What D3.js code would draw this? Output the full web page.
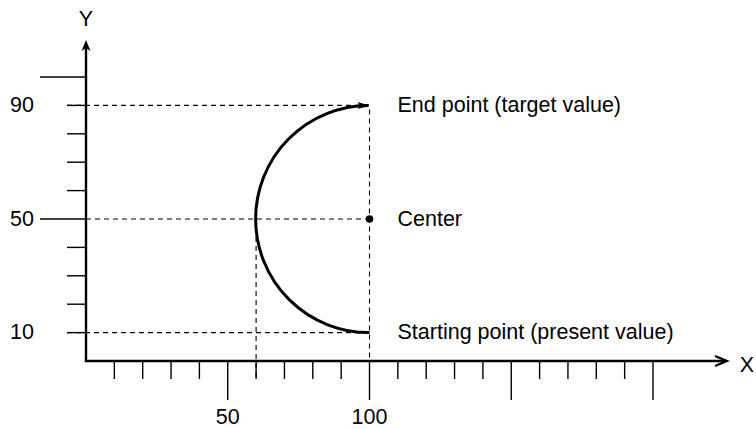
<!DOCTYPE html>
<html>
<head>
<meta charset="utf-8">
<script src="https://cdn.jsdelivr.net/npm/d3@7"></script>
<style>
  html, body { margin: 0; padding: 0; background: #fff; }
  svg { display: block; }
  text { font-family: "Liberation Sans", Arial, Helvetica, sans-serif; fill: #000; }
</style>
</head>
<body>
<svg id="chart" width="756" height="429"></svg>
<script>
// ---- data ----
const xMinorTicks = [10,20,30,40,60,70,80,90,110,120,130,140,160,170,180,190];
const xMajorTicks = [50,100,150,200];
const xTickLabels = [50,100];
const yMinorTicks = [10,20,30,40,60,70,80,90];
const yMajorTicks = [50,100];
const yTickLabels = [10,50,90];
const startPoint = {x:100, y:10};
const centerPoint = {x:100, y:50};
const endPoint = {x:100, y:90};
const leftPoint = {x:60, y:50};
const annotations = ["End point (target value)", "Center", "Starting point (present value)"];
const annotationY = [90, 50, 10];

// ---- layout ----
const svg = d3.select("#chart");
const x = d3.scaleLinear().domain([0,200]).range([86,653]);
const y = d3.scaleLinear().domain([0,100]).range([361,77]);
const xAxisEnd = 727, yAxisTop = 40;
const fs = 21.5;

const defs = svg.append("defs");
defs.append("marker").attr("id","arcArrow").attr("viewBox","0 0 12 8")
  .attr("refX",11).attr("refY",4).attr("markerWidth",12).attr("markerHeight",8)
  .attr("markerUnits","userSpaceOnUse").attr("orient","auto")
  .append("path").attr("d","M0,0.5 L12,4 L0,7.5 L2.5,4 Z").attr("fill","#000");

const dash = "5,4";
const g = svg.append("g");
function dline(x1,y1,x2,y2){
  g.append("line").attr("x1",x1).attr("y1",y1).attr("x2",x2).attr("y2",y2)
   .attr("stroke","#000").attr("stroke-width",1.1).attr("stroke-dasharray",dash);
}
dline(x(0)-19, y(endPoint.y), x(endPoint.x), y(endPoint.y));
dline(x(0), y(centerPoint.y), x(centerPoint.x), y(centerPoint.y));
dline(x(0)-19, y(startPoint.y), x(startPoint.x), y(startPoint.y));
dline(x(endPoint.x), y(endPoint.y)+4, x(endPoint.x), y(0));
dline(x(leftPoint.x), y(leftPoint.y), x(leftPoint.x), y(0)+18);

g.selectAll(".xminor").data(xMinorTicks).join("line")
  .attr("x1",d=>x(d)).attr("x2",d=>x(d)).attr("y1",y(0)).attr("y2",y(0)+18)
  .attr("stroke","#000").attr("stroke-width",1.4);
g.selectAll(".xmajor").data(xMajorTicks).join("line")
  .attr("x1",d=>x(d)).attr("x2",d=>x(d)).attr("y1",y(0)).attr("y2",y(0)+39)
  .attr("stroke","#000").attr("stroke-width",1.4);
g.selectAll(".xlab").data(xTickLabels).join("text")
  .attr("x",d=>x(d)).attr("y",y(0)+57).attr("text-anchor","middle")
  .attr("dominant-baseline","middle").attr("font-size",fs).text(d=>d);

g.selectAll(".yminor").data(yMinorTicks).join("line")
  .attr("x1",x(0)-19).attr("x2",x(0)).attr("y1",d=>y(d)).attr("y2",d=>y(d))
  .attr("stroke","#000").attr("stroke-width",1.4);
g.selectAll(".ymajor").data(yMajorTicks).join("line")
  .attr("x1",x(0)-46).attr("x2",x(0)).attr("y1",d=>y(d)).attr("y2",d=>y(d))
  .attr("stroke","#000").attr("stroke-width",1.4);
g.selectAll(".ylab").data(yTickLabels).join("text")
  .attr("x",34).attr("y",d=>y(d)+1).attr("text-anchor","end")
  .attr("dominant-baseline","middle").attr("font-size",fs).text(d=>d);

g.append("line").attr("x1",x(0)).attr("y1",y(0)).attr("x2",x(0)).attr("y2",yAxisTop+6)
  .attr("stroke","#000").attr("stroke-width",2.4);
g.append("path").attr("d",`M${x(0)},${yAxisTop} L${x(0)+4.5},${yAxisTop+11} L${x(0)},${yAxisTop+8} L${x(0)-4.5},${yAxisTop+11} Z`)
  .attr("fill","#000");
g.append("line").attr("x1",x(0)-1.2).attr("y1",y(0)).attr("x2",xAxisEnd-3).attr("y2",y(0))
  .attr("stroke","#000").attr("stroke-width",2.4);
g.append("path").attr("d",`M${xAxisEnd-12},${y(0)-5} L${xAxisEnd},${y(0)} L${xAxisEnd-12},${y(0)+5}`)
  .attr("fill","none").attr("stroke","#000").attr("stroke-width",2.2);

g.append("text").attr("x",x(0)).attr("y",20).attr("text-anchor","middle")
  .attr("dominant-baseline","middle").attr("font-size",fs).text("Y");
g.append("text").attr("x",747).attr("y",y(0)+5).attr("text-anchor","middle")
  .attr("dominant-baseline","middle").attr("font-size",fs).text("X");

const rx = x(centerPoint.x) - x(leftPoint.x);
const ry = y(startPoint.y) - y(centerPoint.y);
g.append("path")
  .attr("d",`M${x(startPoint.x)},${y(startPoint.y)} A${rx},${ry} 0 0 1 ${x(endPoint.x)-1},${y(endPoint.y)}`)
  .attr("fill","none").attr("stroke","#000").attr("stroke-width",3)
  .attr("marker-end","url(#arcArrow)");

g.append("circle").attr("cx",x(centerPoint.x)).attr("cy",y(centerPoint.y)).attr("r",3.8).attr("fill","#000");

g.selectAll(".ann").data(annotations).join("text")
  .attr("x",x(endPoint.x)+28).attr("y",(d,i)=>y(annotationY[i])+1)
  .attr("dominant-baseline","middle").attr("font-size",fs).text(d=>d);
</script>
</body>
</html>
